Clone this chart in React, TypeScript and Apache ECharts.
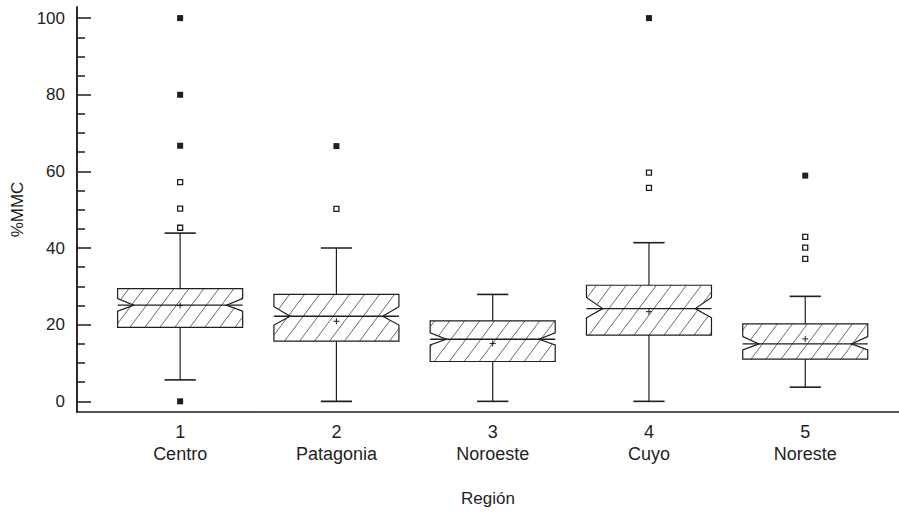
import React, { useEffect, useRef } from "react";
import * as echarts from "echarts";

const categories = ["Centro", "Patagonia", "Noroeste", "Cuyo", "Noreste"];
const q1 = [19.3, 15.7, 10.4, 17.3, 11.0];
const q3 = [29.4, 27.9, 21.0, 30.3, 20.2];
const medians = [25.1, 22.2, 16.2, 24.2, 15.0];
const notchLow = [23.5, 19.9, 14.7, 21.8, 13.4];
const notchHigh = [26.8, 24.7, 17.9, 27.1, 16.9];
const whiskerLow = [5.6, 0, 0, 0, 3.7];
const whiskerHigh = [43.9, 40.0, 27.9, 41.4, 27.4];
const means = [25.0, 20.9, 15.1, 23.4, 16.3];
const outliers = [
  [1, 45.3], [1, 50.3], [1, 57.2],
  [2, 50.2],
  [4, 55.7], [4, 59.7],
  [5, 37.2], [5, 40.1], [5, 42.9],
];
const farOutliers = [
  [1, 0], [1, 66.7], [1, 80], [1, 100],
  [2, 66.6],
  [4, 100],
  [5, 58.9],
];
const yTicks = [0, 20, 40, 60, 80, 100];
const yMinorTicks = [5, 10, 15, 25, 30, 35, 45, 50, 55, 65, 70, 75, 85, 90, 95];
const xTicks = [1, 2, 3, 4, 5];

const FONT = "Liberation Sans, Arial, Helvetica, sans-serif";
const INK = "#1e1e1e";

function clipLine(poly: number[][], a: number[], b: number[]) {
  const ts: number[] = [];
  const dx = b[0] - a[0];
  const dy = b[1] - a[1];
  for (let i = 0; i < poly.length; i++) {
    const p = poly[i];
    const q = poly[(i + 1) % poly.length];
    const ex = q[0] - p[0];
    const ey = q[1] - p[1];
    const den = dx * ey - dy * ex;
    if (Math.abs(den) < 1e-9) continue;
    const t = ((p[0] - a[0]) * ey - (p[1] - a[1]) * ex) / den;
    const u = ((p[0] - a[0]) * dy - (p[1] - a[1]) * dx) / den;
    if (t >= 0 && t <= 1 && u >= 0 && u <= 1) ts.push(t);
  }
  ts.sort((m, n) => m - n);
  const segs: number[][] = [];
  for (let i = 0; i + 1 < ts.length; i += 2) {
    segs.push([
      a[0] + dx * ts[i], a[1] + dy * ts[i],
      a[0] + dx * ts[i + 1], a[1] + dy * ts[i + 1],
    ]);
  }
  return segs;
}

export default function App() {
  const ref = useRef<HTMLDivElement>(null);
  useEffect(() => {
    if (!ref.current) return;
    const chart = echarts.init(ref.current, null, { renderer: "svg" });

    const boxData = categories.map((_, i) => [
      i + 1, q1[i], q3[i], medians[i], notchLow[i], notchHigh[i],
      whiskerLow[i], whiskerHigh[i], means[i],
    ]);

    const renderItem = (params: any, api: any) => {
      const x = api.value(0);
      const cx = api.coord([x, 0])[0];
      const Y = (v: number) => api.coord([x, v])[1];
      const halfW = api.size([0.4, 0])[0];
      const capHalf = api.size([0.1, 0])[0];
      const d = halfW * 0.26;
      const L = cx - halfW;
      const R = cx + halfW;
      const yB = Y(api.value(1));
      const yT = Y(api.value(2));
      const yM = Y(api.value(3));
      const yNL = Y(api.value(4));
      const yNH = Y(api.value(5));
      const yWL = Y(api.value(6));
      const yWH = Y(api.value(7));
      const yMean = Y(api.value(8));
      const poly = [
        [L, yT], [R, yT], [R, yNH], [R - d, yM], [R, yNL], [R, yB],
        [L, yB], [L, yNL], [L + d, yM], [L, yNH],
      ];
      const s = 0.75;
      const h = 15;
      const children: any[] = [];
      children.push({
        type: "polygon",
        shape: { points: poly },
        style: { fill: "#fff", stroke: null },
      });
      const cMin = L + s * yT;
      const cMax = R + s * yB;
      for (let c = Math.floor(cMin / h) * h + 0.37; c <= cMax; c += h) {
        const a = [c - s * (yB + 2), yB + 2];
        const b = [c - s * (yT - 2), yT - 2];
        const segs = clipLine(poly, a, b);
        segs.forEach((sg) => {
          children.push({
            type: "line",
            shape: { x1: sg[0], y1: sg[1], x2: sg[2], y2: sg[3] },
            style: { stroke: "#6a6a6a", lineWidth: 1 },
          });
        });
      }
      children.push({
        type: "polygon",
        shape: { points: poly },
        style: { fill: null, stroke: INK, lineWidth: 1.2 },
      });
      const ln = (x1: number, y1: number, x2: number, y2: number, w = 1.2) => ({
        type: "line",
        shape: { x1, y1, x2, y2 },
        style: { stroke: INK, lineWidth: w },
      });
      children.push(ln(L, yM, R, yM, 1.4));
      children.push(ln(cx, yT, cx, yWH));
      children.push(ln(cx, yB, cx, yWL));
      children.push(ln(cx - capHalf, yWH, cx + capHalf, yWH, 1.6));
      children.push(ln(cx - capHalf, yWL, cx + capHalf, yWL, 1.6));
      children.push(ln(cx - 3, yMean, cx + 3, yMean, 1));
      children.push(ln(cx, yMean - 3, cx, yMean + 3, 1));
      return { type: "group", children };
    };

    const axisText = { color: INK, fontSize: 17, fontFamily: FONT };

    chart.setOption({
      animation: false,
      backgroundColor: "#fff",
      grid: { left: 77, right: 0, top: 7, bottom: 98, containLabel: false },
      xAxis: {
        type: "value",
        min: 0.34,
        max: 5.6,
        name: "Región",
        nameLocation: "middle",
        nameGap: 78,
        nameTextStyle: axisText,
        axisLine: { show: true, onZero: false, lineStyle: { color: INK, width: 1.5 } },
        axisTick: { show: false },
        splitLine: { show: false },
        axisLabel: {
          ...axisText,
          fontSize: 18,
          customValues: xTicks,
          lineHeight: 22,
          margin: 9,
          formatter: (v: number) => `${v}\n${categories[Math.round(v) - 1] ?? ""}`,
        },
      },
      yAxis: [
        {
          type: "value",
          min: -2.78,
          max: 102.9,
          name: "%MMC",
          nameLocation: "middle",
          nameGap: 50,
          nameRotate: 90,
          nameTextStyle: axisText,
          axisLine: { show: true, onZero: false, lineStyle: { color: INK, width: 1.5 } },
          axisTick: {
            show: true,
            inside: true,
            length: 14,
            customValues: yTicks,
            lineStyle: { color: INK, width: 1.5 },
          },
          axisLabel: { ...axisText, customValues: yTicks, margin: 12 },
          splitLine: { show: false },
        },
        {
          type: "value",
          min: -2.78,
          max: 102.9,
          position: "left",
          offset: 0,
          axisLine: { show: true, onZero: false, lineStyle: { color: INK, width: 1.5 } },
          axisTick: {
            show: true,
            inside: true,
            length: 8,
            customValues: yMinorTicks,
            lineStyle: { color: INK, width: 1.5 },
          },
          axisLabel: { show: false },
          splitLine: { show: false },
        },
      ],
      series: [
        {
          type: "custom",
          renderItem,
          data: boxData,
          encode: { x: 0, y: [1, 2, 3, 4, 5, 6, 7, 8] },
          z: 2,
        },
        {
          type: "scatter",
          data: outliers,
          symbol: "rect",
          symbolSize: 5,
          itemStyle: { color: "#fff", borderColor: INK, borderWidth: 1.3, opacity: 1 },
          z: 3,
        },
        {
          type: "scatter",
          data: farOutliers,
          symbol: "rect",
          symbolSize: 6,
          itemStyle: { color: INK, opacity: 1 },
          z: 3,
        },
      ],
    });
    return () => chart.dispose();
  }, []);

  return (
    <div
      ref={ref}
      style={{ position: "fixed", left: 0, top: 0, width: 899, height: 512, background: "#fff" }}
    />
  );
}
